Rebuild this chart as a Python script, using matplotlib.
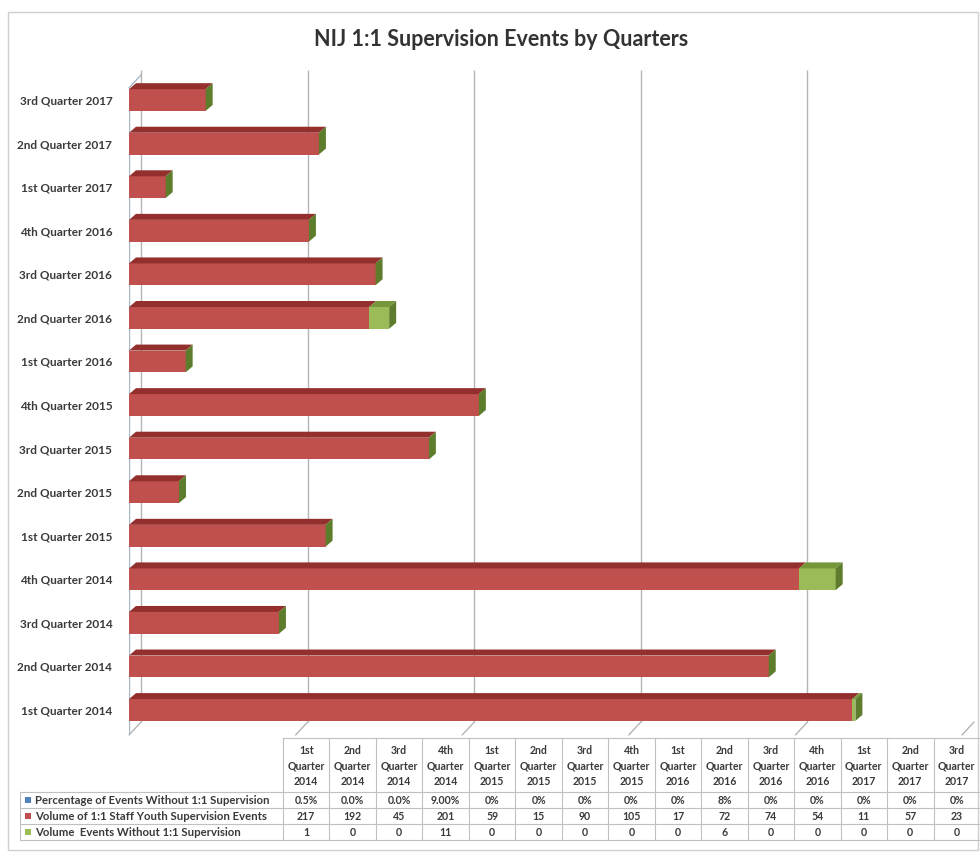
import matplotlib
matplotlib.use("Agg")
import matplotlib.pyplot as plt
import matplotlib.transforms as mtransforms
from matplotlib.patches import Polygon, Rectangle

# ---------------- data ----------------
categories = ["1st Quarter 2014", "2nd Quarter 2014", "3rd Quarter 2014", "4th Quarter 2014",
              "1st Quarter 2015", "2nd Quarter 2015", "3rd Quarter 2015", "4th Quarter 2015",
              "1st Quarter 2016", "2nd Quarter 2016", "3rd Quarter 2016", "4th Quarter 2016",
              "1st Quarter 2017", "2nd Quarter 2017", "3rd Quarter 2017"]
pct_labels = ["0.5%", "0.0%", "0.0%", "9.00%", "0%", "0%", "0%", "0%",
              "0%", "8%", "0%", "0%", "0%", "0%", "0%"]
volume = [217, 192, 45, 201, 59, 15, 90, 105, 17, 72, 74, 54, 11, 57, 23]
without = [1, 0, 0, 11, 0, 0, 0, 0, 0, 6, 0, 0, 0, 0, 0]
series_names = ["Percentage of Events Without 1:1 Supervision",
                "Volume of 1:1 Staff Youth Supervision Events",
                "Volume  Events Without 1:1 Supervision"]
grid_ticks = [0, 50, 100, 150, 200, 250]
title = "NIJ 1:1 Supervision Events by Quarters"

pct = [float(s.rstrip("%")) / 100 for s in pct_labels]

# ---------------- style ----------------
FONT = ["Lato", "DejaVu Sans"]
plt.rcParams["font.family"] = FONT
TXT = "#3a3a3a"
front_cols = ["#4F81BD", "#C0504D", "#9BBB59"]
top_cols = ["#3A6396", "#93302D", "#76963A"]
side_col = "#5E7D2C"

W, H = 980, 858
fig = plt.figure(figsize=(W / 100, H / 100), dpi=100)


def ax_rect(l, t, r, b):
    return [l / W, 1 - b / H, (r - l) / W, (b - t) / H]


# overlay axes in pixel units for frame, title and table
ov = fig.add_axes([0, 0, 1, 1], zorder=0)
ov.set_xlim(0, W)
ov.set_ylim(H, 0)
ov.axis("off")
ov.add_patch(Rectangle((8, 12), 970, 838, fill=False, ec="#d0d0d0", lw=1))
ov.text(501, 40, title, ha="center", va="center", fontsize=15.5,
        fontweight="bold", color="#333333")

# ---------------- main chart ----------------
ax = fig.add_axes(ax_rect(129, 70, 962, 735), zorder=1)
ax.patch.set_alpha(0)
ax.set_xlim(0, 250)
ax.set_ylim(-0.574, 14.69)
for s in ax.spines.values():
    s.set_visible(False)
ax.set_xticks([])

idx = list(range(len(categories)))
ax.set_yticks(idx, categories)
ax.tick_params(axis="y", length=0, pad=12, labelsize=8.5, labelcolor=TXT)
for lab in ax.get_yticklabels():
    lab.set_fontweight("bold")

# 3D depth in data units (derived from the axes scale)
px_x = (962 - 129) / 250.0
px_y = (735 - 70) / (14.69 + 0.574)
dx = 7 / px_x
dy = 6 / px_y
h = 0.5

off = mtransforms.ScaledTranslation(12 / 100, 13 / 100, fig.dpi_scale_trans)
gtrans = ax.get_xaxis_transform() + off
ax.vlines(grid_ticks, 0, 0.98, transform=gtrans, color="#b5b5b5", lw=1.0, zorder=0)
for t in grid_ticks:
    ax.annotate("", xy=(t, 0), xycoords=ax.get_xaxis_transform(),
                xytext=(12 * 0.72, 13 * 0.72), textcoords="offset points",
                arrowprops=dict(arrowstyle="-", color="#b5b5b5", lw=1.0,
                                shrinkA=0, shrinkB=0), zorder=0)
# left wall front edge
ax.vlines([0], 0, 0.973, transform=ax.get_xaxis_transform(), color="#a8b8c8", lw=1.0, zorder=0)
ax.annotate("", xy=(0, 0.973), xycoords=ax.get_xaxis_transform(),
            xytext=(12 * 0.72, 13 * 0.72), textcoords="offset points",
            arrowprops=dict(arrowstyle="-", color="#a8b8c8", lw=1.0, shrinkA=0, shrinkB=0))

series = [pct, volume, without]
for i in idx:
    left = 0.0
    for k, vals in enumerate(series):
        w = vals[i]
        if w > 0:
            ax.barh(i, w, left=left, height=h, color=front_cols[k], zorder=3)
            yt = i + h / 2
            ax.add_patch(Polygon([(left, yt), (left + w, yt), (left + w + dx, yt + dy),
                                  (left + dx, yt + dy)], closed=True,
                                 color=top_cols[k], zorder=3, lw=0))
        left += w
    yb, yt = i - h / 2, i + h / 2
    ax.add_patch(Polygon([(left, yb), (left, yt), (left + dx, yt + dy), (left + dx, yb + dy)],
                         closed=True, color=side_col, zorder=3, lw=0))

# ---------------- data table ----------------
x0_lab, x0, x1 = 20, 283, 980
cw = (x1 - x0) / len(categories)
y_head, y_rows = 738, [792, 808, 824, 840]
lc = "#c0c0c0"
ov.plot([x0, x1], [y_head, y_head], color=lc, lw=0.8)
for yy in y_rows:
    ov.plot([x0_lab, x1], [yy, yy], color=lc, lw=0.8)
ov.plot([x0_lab, x0_lab], [y_rows[0], y_rows[-1]], color=lc, lw=0.8)
for j in range(len(categories) + 1):
    xx = x0 + j * cw
    ov.plot([xx, xx], [y_head, y_rows[-1]], color=lc, lw=0.8)

TFS = 7.6
for j, c in enumerate(categories):
    xc = x0 + (j + 0.5) * cw
    ov.text(xc, (y_head + y_rows[0]) / 2 + 1, c.replace(" ", "\n"), ha="center", va="center",
            fontsize=TFS, fontweight="bold", color=TXT, linespacing=1.5)

row_texts = [pct_labels, [str(v) for v in volume], [str(v) for v in without]]
for r in range(3):
    yc = (y_rows[r] + y_rows[r + 1]) / 2
    ov.add_patch(Rectangle((25, yc - 3), 6, 6, color=front_cols[r], lw=0))
    ov.text(35, yc, series_names[r], ha="left", va="center", fontsize=8.2,
            fontweight="bold", color=TXT)
    for j, s in enumerate(row_texts[r]):
        ov.text(x0 + (j + 0.5) * cw, yc, s, ha="center", va="center", fontsize=TFS,
                fontweight="bold", color=TXT)

fig.savefig("out.png", dpi=100)
